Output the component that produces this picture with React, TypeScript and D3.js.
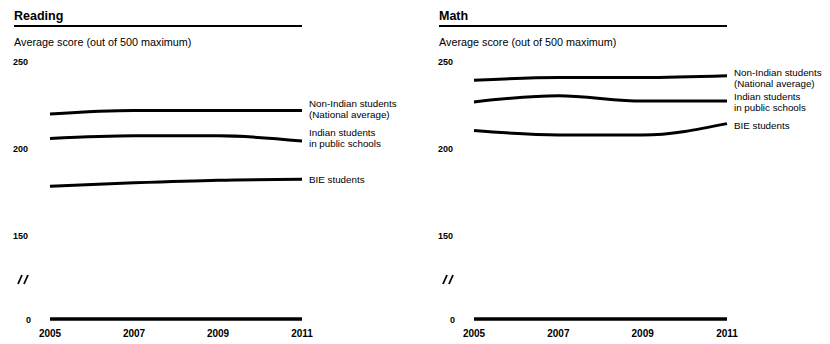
import React from "react";
import * as d3 from "d3";

const years = [2005, 2007, 2009, 2011];
const seriesNames = ["Non-Indian students", "Indian students", "BIE students"];
const seriesLabels = [
  ["Non-Indian students", "(National average)"],
  ["Indian students", "in public schools"],
  ["BIE students"],
];
const readingNonIndian = [219.5, 221.5, 221.5, 221.5];
const readingIndianPublic = [205.5, 207, 207, 204];
const readingBIE = [178, 180, 181.5, 182];
const mathNonIndian = [239, 240.5, 240.5, 241.5];
const mathIndianPublic = [226.5, 230, 227, 227];
const mathBIE = [210, 207.5, 207.5, 214];
const yTicks = [250, 200, 150];
const panelTitles = ["Reading", "Math"];
const subtitles = ["Average score (out of 500 maximum)", "Average score (out of 500 maximum)"];

const FONT = "'Liberation Sans', Arial, sans-serif";

const panels = [
  {
    title: panelTitles[0],
    subtitle: subtitles[0],
    series: [readingNonIndian, readingIndianPublic, readingBIE],
    left: 14,
    x0: 50,
    x1: 302,
    zeroX: 26,
    labelDy: [-1.5, -3.5, 0.5],
  },
  {
    title: panelTitles[1],
    subtitle: subtitles[1],
    series: [mathNonIndian, mathIndianPublic, mathBIE],
    left: 439,
    x0: 474,
    x1: 727,
    zeroX: 450,
    labelDy: [2.5, 0.5, 1.5],
  },
];

const y = d3.scaleLinear().domain([150, 250]).range([235, 61]);
const zeroY = 319;

function Panel({ p }: { p: (typeof panels)[number] }) {
  const x = d3.scaleLinear().domain([2005, 2011]).range([p.x0, p.x1]);
  const line = d3
    .line<number>()
    .x((_, i) => x(years[i]))
    .y((d) => y(d))
    .curve(d3.curveMonotoneX);
  return (
    <g>
      <text x={p.left} y={20} fontFamily={FONT} fontWeight="bold" fontSize={12.5}>
        {p.title}
      </text>
      <line x1={p.left} x2={p.x1} y1={26} y2={26} stroke="#000" strokeWidth={1.8} />
      <text x={p.left} y={45.5} fontFamily={FONT} fontSize={10.8}>
        {p.subtitle}
      </text>
      {yTicks.map((t) => (
        <text key={t} x={p.left - 1} y={y(t) + 3.5} fontFamily={FONT} fontWeight="bold" fontSize={9}>
          {t}
        </text>
      ))}
      <text x={p.zeroX} y={zeroY + 3.5} fontFamily={FONT} fontWeight="bold" fontSize={9}>
        0
      </text>
      <g stroke="#000" strokeWidth={1.8}>
        <line x1={p.left + 4} y1={284} x2={p.left + 8} y2={275} />
        <line x1={p.left + 10} y1={284} x2={p.left + 14} y2={275} />
      </g>
      <line x1={p.x0} x2={p.x1} y1={zeroY} y2={zeroY} stroke="#000" strokeWidth={3.5} />
      {years.map((yr) => (
        <text
          key={yr}
          x={x(yr)}
          y={337}
          textAnchor="middle"
          fontFamily={FONT}
          fontWeight="bold"
          fontSize={10}
        >
          {yr}
        </text>
      ))}
      {p.series.map((vals, i) => (
        <path key={seriesNames[i]} d={line(vals) || ""} fill="none" stroke="#000" strokeWidth={3} />
      ))}
      {p.series.map((vals, i) => {
        const lines = seriesLabels[i];
        const cy = y(vals[vals.length - 1]) + p.labelDy[i];
        const startY = cy - ((lines.length - 1) * 11) / 2 + 3.5;
        return (
          <text key={"l" + i} fontFamily={FONT} fontSize={9.8}>
            {lines.map((t, j) => (
              <tspan key={j} x={p.x1 + 7} y={startY + j * 11}>
                {t}
              </tspan>
            ))}
          </text>
        );
      })}
    </g>
  );
}

export default function App() {
  return (
    <svg
      width={830}
      height={344}
      style={{ position: "absolute", left: 0, top: 0, background: "#fff" }}
    >
      <rect width={830} height={344} fill="#fff" />
      {panels.map((p) => (
        <Panel key={p.title} p={p} />
      ))}
    </svg>
  );
}
